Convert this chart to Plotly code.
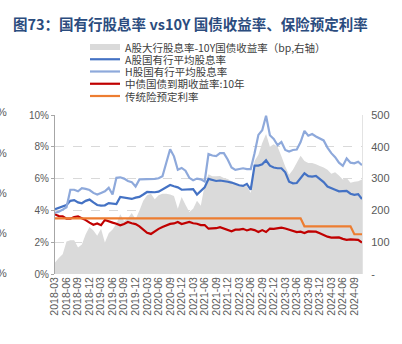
import pandas as pd
import plotly.graph_objects as go

# Monthly observations, 2018-03 .. 2024-11
months = pd.period_range("2018-03", "2024-11", freq="M").strftime("%Y-%m").tolist()
month_pos = list(range(len(months)))
tick_pos = month_pos[::3]
tick_months = months[::3]

# A股大行股息率 - 10Y国债收益率 (bp, right axis)
spread_bp = [
    36, 50, 62, 102, 106, 106, 83, 93, 125, 148,
    137, 120, 142, 99, 128, 140, 158, 188, 167, 175, 192, 172,
    200, 230, 248, 252, 235, 248, 252, 252, 250, 245, 205, 242,
    218, 195, 205, 230, 215, 280, 314, 307, 307, 308, 302, 299,
    292, 287, 281, 277, 276, 255, 355, 375, 412, 440, 400, 408,
    400, 370, 338, 312, 328, 350, 372, 355, 349, 349, 345, 340,
    335, 328, 315, 320, 310, 297, 302, 287, 290, 292, 297,
]

# A股国有行平均股息率 (%)
a_share_yield = [
    4.07, 4.15, 4.22, 4.34, 4.60, 4.65, 4.50, 4.45, 4.60, 4.68,
    4.50, 4.34, 4.30, 4.32, 4.46, 4.42, 4.40, 4.85, 4.80, 4.76, 4.72, 4.80,
    4.85, 5.00, 5.16, 5.15, 5.14, 5.18, 5.32, 5.45, 5.60, 5.52, 5.45, 5.30,
    5.32, 5.30, 5.34, 5.00, 5.25, 5.45, 5.98, 5.90, 5.85, 5.88, 5.86, 5.80,
    5.75, 5.65, 5.58, 5.54, 5.67, 5.30, 6.82, 6.82, 6.90, 7.15, 6.81, 6.70,
    6.65, 6.65, 6.40, 5.80, 5.70, 5.72, 6.00, 6.33, 6.15, 6.13, 6.17, 6.00,
    5.78, 5.50, 5.38, 5.30, 5.20, 5.20, 5.23, 5.05, 4.98, 5.02, 4.71,
]

# H股国有行平均股息率 (%)
h_share_yield = [
    3.85, 3.92, 4.05, 4.20, 5.30, 5.30, 5.20, 5.40, 5.35, 5.28,
    5.10, 5.00, 5.10, 5.20, 5.42, 5.00, 6.05, 6.08, 6.00, 5.85, 5.78, 5.50,
    5.95, 5.95, 5.94, 5.96, 5.98, 6.02, 6.15, 7.00, 7.85, 7.40, 6.56, 6.67,
    6.50, 6.05, 5.90, 6.00, 5.95, 5.82, 7.54, 7.45, 7.42, 7.60, 7.60, 7.20,
    6.70, 6.55, 6.58, 6.65, 6.60, 6.60, 7.60, 8.75, 9.04, 9.95, 8.73, 8.50,
    8.10, 8.30, 7.80, 7.70, 7.80, 7.83, 8.30, 9.00, 8.70, 8.80, 8.65, 8.50,
    8.40, 7.95, 7.60, 7.35, 7.00, 6.80, 7.27, 7.00, 6.96, 7.06, 6.85,
]

# 中债国债到期收益率:10年 (%)
cgb_10y = [
    3.75, 3.64, 3.62, 3.48, 3.48, 3.58, 3.62, 3.52, 3.39, 3.23,
    3.10, 3.18, 3.07, 3.40, 3.30, 3.23, 3.16, 3.06, 3.14, 3.27, 3.19, 3.14,
    3.00, 2.81, 2.59, 2.52, 2.70, 2.84, 2.96, 3.04, 3.15, 3.18, 3.27, 3.14,
    3.19, 3.27, 3.19, 3.16, 3.08, 3.08, 2.85, 2.87, 2.88, 2.95, 2.85, 2.78,
    2.69, 2.79, 2.79, 2.84, 2.74, 2.82, 2.76, 2.64, 2.76, 2.64, 2.86, 2.84,
    2.90, 2.92, 2.86, 2.79, 2.70, 2.64, 2.66, 2.58, 2.68, 2.69, 2.66, 2.56,
    2.43, 2.35, 2.29, 2.31, 2.30, 2.21, 2.15, 2.18, 2.15, 2.15, 1.98,
]

# 传统险预定利率 (%)
pricing_rate = [
    3.5, 3.5, 3.5, 3.5, 3.5, 3.5, 3.5, 3.5, 3.5, 3.5,
    3.5, 3.5, 3.5, 3.5, 3.5, 3.5, 3.5, 3.5, 3.5, 3.5, 3.5, 3.5,
    3.5, 3.5, 3.5, 3.5, 3.5, 3.5, 3.5, 3.5, 3.5, 3.5, 3.5, 3.5,
    3.5, 3.5, 3.5, 3.5, 3.5, 3.5, 3.5, 3.5, 3.5, 3.5, 3.5, 3.5,
    3.5, 3.5, 3.5, 3.5, 3.5, 3.5, 3.5, 3.5, 3.5, 3.5, 3.5, 3.5,
    3.5, 3.5, 3.5, 3.5, 3.5, 3.5, 3.5, 3.0, 3.0, 3.0, 3.0, 3.0,
    3.0, 3.0, 3.0, 3.0, 3.0, 3.0, 3.0, 3.0, 2.5, 2.5, 2.5,
]

left_ticks = [0, 2, 4, 6, 8, 10]
right_ticks = [0, 100, 200, 300, 400, 500]
right_tick_text = ["-", "100", "200", "300", "400", "500"]

legend_names = [
    "A股大行股息率-10Y国债收益率（bp,右轴）",
    "A股国有行平均股息率",
    "H股国有行平均股息率",
    "中债国债到期收益率:10年",
    "传统险预定利率",
]
colors = ["#DADADA", "#4472C4", "#8EA9DB", "#C00000", "#ED7D31"]
line_widths = [6, 2.2, 2.2, 2.2, 2.2]

FONT = "Liberation Sans, Arial, Noto Sans CJK SC, sans-serif"
CJK = "Noto Sans CJK SC, Liberation Sans, sans-serif"

W, H = 402, 344
L, R, T, B = 55, 40, 115, 70
PW, PH = W - L - R, H - T - B


def px_x(x):
    return (x - L) / PW


def px_y(y):
    return (H - B - y) / PH


fig = go.Figure()

# spread area on the primary (right-hand, bp) axis so the rate lines sit on top
fig.add_trace(go.Scatter(
    x=month_pos, y=spread_bp, yaxis="y", mode="none",
    fill="tozeroy", fillcolor=colors[0], name=legend_names[0],
))
for series, name, color in [
    (a_share_yield, legend_names[1], colors[1]),
    (h_share_yield, legend_names[2], colors[2]),
    (cgb_10y, legend_names[3], colors[3]),
    (pricing_rate, legend_names[4], colors[4]),
]:
    fig.add_trace(go.Scatter(
        x=month_pos, y=series, yaxis="y2", mode="lines", name=name,
        line=dict(color=color, width=2.2),
    ))

# Hand-drawn legend block above the plot
shapes = []
annotations = []
for k, (name, color, lw) in enumerate(zip(legend_names, colors, line_widths)):
    yc = 47 + 12.25 * k
    shapes.append(dict(
        type="line", xref="paper", yref="paper",
        x0=px_x(90), x1=px_x(120), y0=px_y(yc), y1=px_y(yc),
        line=dict(color=color, width=lw),
    ))
    annotations.append(dict(
        xref="paper", yref="paper", x=px_x(123), y=px_y(yc),
        xanchor="left", yanchor="middle", text=name, showarrow=False,
        font=dict(family=CJK, size=10.5, color="#404040"),
    ))

# Percentage labels of the neighbouring panel cut off at the left border
for txt, yc in [("9%", 112), ("8%", 153), ("7%", 193), ("6%", 233), ("5%", 273)]:
    annotations.append(dict(
        xref="paper", yref="paper", x=px_x(9), y=px_y(yc),
        xanchor="right", yanchor="middle", text=txt, showarrow=False,
        font=dict(family=FONT, size=11, color="#595959"),
    ))

fig.update_layout(
    width=W, height=H,
    margin=dict(l=L, r=R, t=T, b=B, pad=0),
    paper_bgcolor="white", plot_bgcolor="white",
    showlegend=False,
    font=dict(family=FONT, size=10, color="#595959"),
    title=dict(
        text="<b>图73：国有行股息率 vs10Y 国债收益率、保险预定利率</b>",
        xref="container", yref="container",
        x=13 / W, y=1 - 25 / H, xanchor="left", yanchor="middle",
        font=dict(family=CJK, size=14.5, color="#2B4C7E"),
    ),
    xaxis=dict(
        type="linear", range=[0, len(months) - 1],
        tickmode="array", tickvals=tick_pos, ticktext=tick_months,
        tickangle=-90, tickfont=dict(size=10.5, color="#595959"),
        showgrid=False, zeroline=False, showline=False, ticks="",
    ),
    yaxis=dict(
        side="right", range=[0, 500],
        tickvals=right_ticks, ticktext=right_tick_text,
        tickfont=dict(size=11, color="#595959"),
        showgrid=False, zeroline=False,
        showline=True, linecolor="#E3E3E3", linewidth=1,
        ticks="outside", ticklen=4, tickcolor="white",
        ticklabelstandoff=2,
    ),
    yaxis2=dict(
        overlaying="y", side="left", range=[0, 10], tickvals=left_ticks,
        ticktext=[f"{v}%" for v in left_ticks],
        tickfont=dict(size=10, color="#595959"),
        showgrid=True, gridcolor="#D9D9D9", griddash="dash", gridwidth=1,
        zeroline=False, showline=True, linecolor="#A6A6A6", linewidth=1,
        ticks="outside", ticklen=3, tickcolor="#A6A6A6",
    ),
    shapes=shapes,
    annotations=annotations,
)

fig.write_html("out.html")
